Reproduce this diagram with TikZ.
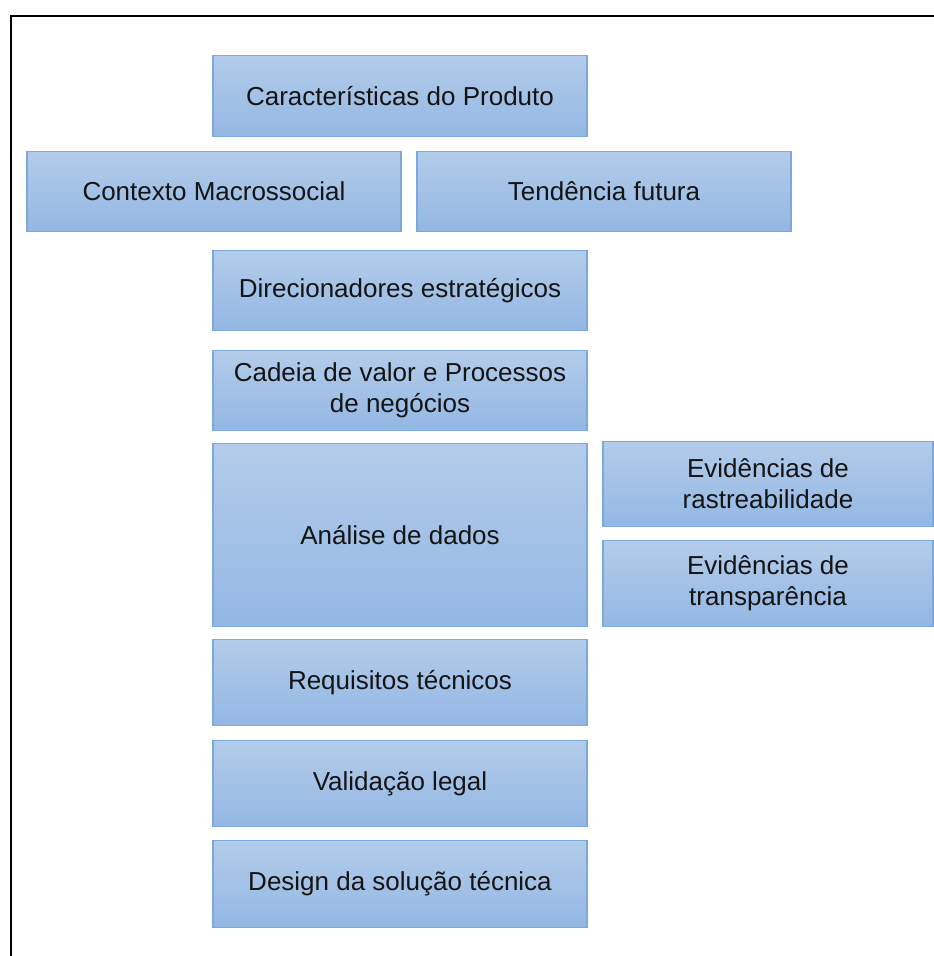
\documentclass[tikz,border=0pt]{standalone}
\usepackage{fontspec}
\setmainfont{Liberation Sans}
\usetikzlibrary{positioning}
\definecolor{boxtop}{HTML}{B3CCEA}
\definecolor{boxbot}{HTML}{93B7E3}
\definecolor{boxline}{HTML}{7DA8DD}
\definecolor{boxtext}{HTML}{141414}
\begin{document}
\begin{tikzpicture}[
  x=1pt, y=-1pt,
  box/.style={draw=boxline, line width=1.2pt, top color=boxtop, bottom color=boxbot,
    minimum width=374pt, minimum height=80pt, inner sep=2pt, outer sep=0pt,
    align=center, text=boxtext, font=\fontsize{26}{31}\selectfont},
  side/.style={box, minimum width=330pt, minimum height=85pt}
]
\useasboundingbox (0,0) rectangle (934,956);
\draw[line width=2pt] (10.5,956) |- (934,15.5);
% main column
\node[box, minimum height=81pt] (prod) at (400,96) {Características do Produto};
\node[box] (macro) at (214,191.5) {Contexto Macrossocial};
\node[box] (tend)  at (604,191.5) {Tendência futura};
\node[box] (dir)   at (400,290.5) {Direcionadores estratégicos};
\node[box] (cadeia) at (400,390.5) {Cadeia de valor e Processos\\de negócios};
\node[box, minimum height=183pt] (dados) at (400,535) {Análise de dados};
\node[box, minimum height=86pt] (req)    at (400,682.5) {Requisitos técnicos};
\node[box, minimum height=86pt] (legal)  at (400,783.5) {Validação legal};
\node[box, minimum height=87pt] (design) at (400,884) {Design da solução técnica};
% evidencias
\node[side] (rastro) at (768,484) {Evidências de\\rastreabilidade};
\node[side, minimum height=86pt] (transp) at (768,583.5) {Evidências de\\transparência};
\end{tikzpicture}
\end{document}
